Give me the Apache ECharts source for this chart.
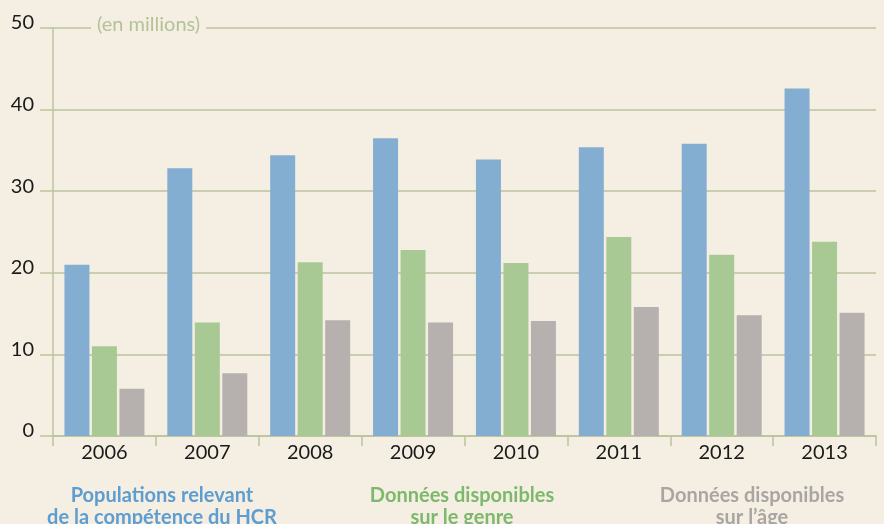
<!DOCTYPE html>
<html>
<head>
<meta charset="utf-8">
<script src="https://cdn.jsdelivr.net/npm/echarts@6/dist/echarts.min.js"></script>
<style>
  html, body { margin: 0; padding: 0; background: #F5EFE3; }
  #chart { width: 884px; height: 524px; }
</style>
</head>
<body>
<div id="chart"></div>
<script>
// data (millions)
const years = ['2006', '2007', '2008', '2009', '2010', '2011', '2012', '2013'];
const hcr = [21.0, 32.8, 34.4, 36.5, 33.9, 35.4, 35.8, 42.6];
const genre = [11.0, 13.9, 21.3, 22.8, 21.2, 24.4, 22.2, 23.8];
const age = [5.8, 7.7, 14.2, 13.9, 14.1, 15.8, 14.8, 15.1];
const seriesNames = [
  'Populations relevant\nde la compétence du HCR',
  'Données disponibles\nsur le genre',
  'Données disponibles\nsur l’âge'
];
const barColors = ['#83AED2', '#A9C994', '#B6B1AE'];
const labelColors = ['#5E9DD0', '#7DB86C', '#A9A5A2'];
const legendX = [162, 462, 752];

const lineColor = '#BAC39C';
const font = 'Lato, "Open Sans", sans-serif';

const chart = echarts.init(document.getElementById('chart'));

const makeBar = (name, data, i) => ({
  name: name,
  type: 'bar',
  data: data,
  barWidth: 25,
  barGap: '10%',
  itemStyle: { color: barColors[i] },
  emphasis: { disabled: true }
});

chart.setOption({
  backgroundColor: '#F5EFE3',
  animation: false,
  grid: { left: 53, right: 8, top: 28, bottom: 88, containLabel: false },
  xAxis: {
    type: 'category',
    data: years,
    axisLine: { show: true, lineStyle: { color: lineColor, width: 1.5 } },
    axisTick: { show: true, length: 10, alignWithLabel: false, lineStyle: { color: lineColor, width: 1.5 } },
    axisLabel: { color: '#1a1a1a', fontSize: 20, fontFamily: font, margin: 7 }
  },
  yAxis: {
    type: 'value',
    min: 0,
    max: 50,
    interval: 10,
    axisLine: { show: true, lineStyle: { color: lineColor, width: 1.5 } },
    axisTick: { show: true, length: 13, lineStyle: { color: lineColor, width: 1.5 } },
    axisLabel: {
      color: '#1a1a1a', fontSize: 20, fontFamily: font, margin: 19,
      verticalAlign: 'bottom', lineHeight: 10
    },
    splitLine: { show: true, lineStyle: { color: lineColor, width: 1.5 } }
  },
  series: [
    makeBar(seriesNames[0], hcr, 0),
    makeBar(seriesNames[1], genre, 1),
    makeBar(seriesNames[2], age, 2)
  ],
  graphic: [
    {
      type: 'text',
      left: 91,
      top: 13,
      z: 100,
      style: {
        text: '(en millions)',
        fill: '#B5C196',
        font: '20px ' + font,
        backgroundColor: '#F5EFE3',
        padding: [2, 6, 2, 6]
      }
    }
  ].concat(seriesNames.map((n, i) => ({
    type: 'text',
    x: legendX[i],
    y: 485,
    style: {
      text: n,
      fill: labelColors[i],
      font: 'bold 20px ' + font,
      align: 'center',
      lineHeight: 22
    }
  })))
});

window.addEventListener('resize', () => chart.resize());
</script>
</body>
</html>
